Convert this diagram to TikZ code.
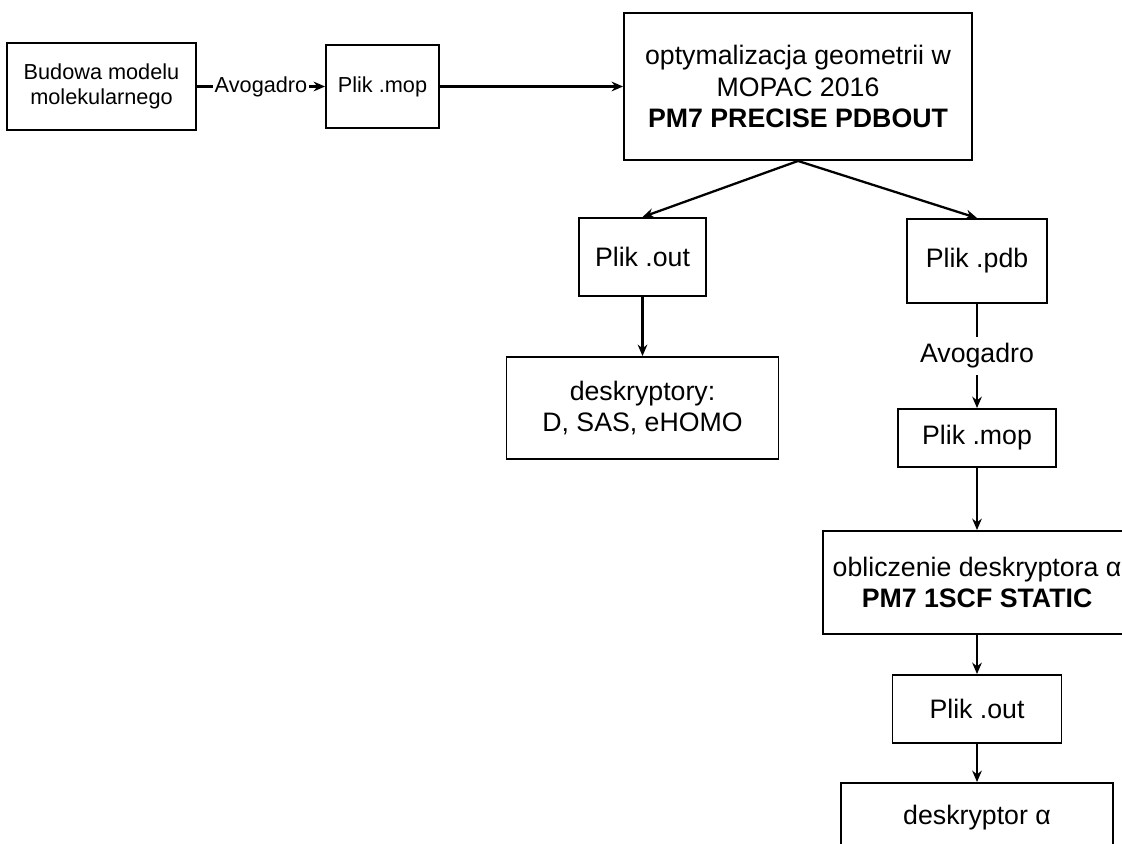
\documentclass[tikz,border=0pt]{standalone}
\usepackage{fontspec}
\setmainfont{Liberation Sans}
\usetikzlibrary{
  arrows.meta,
  positioning
}

\begin{document}
\begin{tikzpicture}[
      >={Stealth[length=6.5pt,width=5.5pt]},
      line width=1.3pt,
      bigfont/.style={font=\fontsize{15.2}{17.8}\selectfont},
      smallfont/.style={font=\fontsize{12.35}{14.2}\selectfont},
      box/.style={draw, line width=1.1pt, align=center, inner sep=2pt, bigfont},
      smallbox/.style={box, smallfont},
      lbl/.style={fill=white, inner xsep=1pt, inner ysep=4pt, bigfont}
  ]
      \useasboundingbox (0,0) rectangle (22.44,-16.86);

      % Pierwszy wiersz
      \node[smallbox, minimum width=3.78cm, minimum height=1.74cm] (budowa) at (2.03,-1.73) {Budowa modelu\\molekularnego};
      \node[smallbox, minimum width=2.26cm, minimum height=1.66cm] (mop1) at (7.65,-1.73) {Plik .mop};
      \node[box, minimum width=6.96cm, minimum height=2.94cm] (optym) at (15.96,-1.73) {optymalizacja geometrii w\\MOPAC 2016\\\textbf{PM7 PRECISE PDBOUT}};

      % Lewa gałąź
      \node[box, minimum width=2.54cm, minimum height=1.56cm] (out1) at (12.85,-5.14) {Plik .out};
      \node[box, minimum width=5.44cm, minimum height=2.04cm] (deskr) at (12.85,-8.16) {deskryptory:\\D, SAS, eHOMO};

      % Prawa gałąź
      \node[box, minimum width=2.8cm, minimum height=1.68cm] (pdb) at (19.54,-5.22) {Plik .pdb};
      \node[box, minimum width=3.16cm, minimum height=1.16cm] (mop2) at (19.54,-8.76) {Plik .mop};
      \node[box, minimum width=6.16cm, minimum height=2.06cm] (oblicz) at (19.54,-11.65) {obliczenie deskryptora α\\\textbf{PM7 1SCF STATIC}};
      \node[box, minimum width=3.38cm, minimum height=1.36cm] (out2) at (19.54,-14.18) {Plik .out};
      \node[box, minimum width=5.44cm, minimum height=1.4cm] (alfa) at (19.54,-16.36) {deskryptor α};

      % Strzałki
      \draw[->] (budowa) -- node[lbl, smallfont, inner ysep=1pt] {Avogadro} (mop1);
      \draw[->] (mop1) -- (optym);
      \draw[->] (optym.south) -- (out1.north);
      \draw[->] (optym.south) -- (pdb.north);
      \draw[->] (out1) -- (deskr);
      \draw[->] (pdb) -- node[lbl] {Avogadro} (mop2);
      \draw[->] (mop2) -- (oblicz);
      \draw[->] (oblicz) -- (out2);
      \draw[->] (out2) -- (alfa);

  \end{tikzpicture}
\end{document}
